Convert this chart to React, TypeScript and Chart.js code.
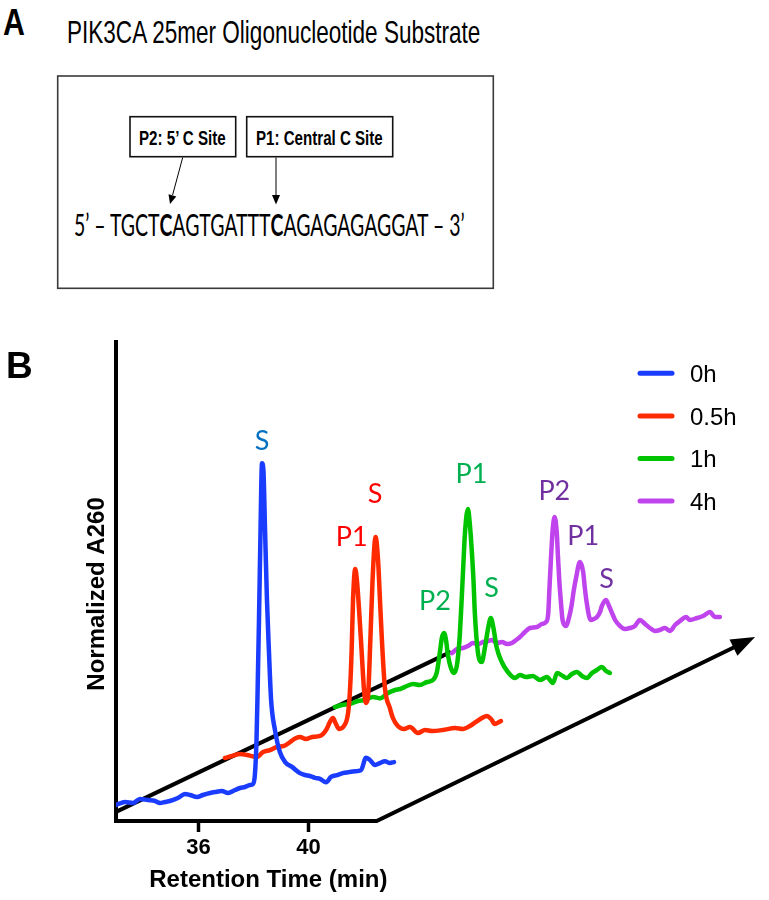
import React, { useEffect, useLayoutEffect, useRef } from 'react';
import { Chart, registerables } from 'chart.js';

Chart.register(...registerables);

// ---------------- data ----------------
const seriesLabels = ['0h', '0.5h', '1h', '4h'];
const lineColors = ['#1a3cff', '#ff2a00', '#00c400', '#c044ee'];
const peakTextColors = ['#0070c0', '#ff0000', '#00b050', '#7030a0'];

const time0h = [33.00, 33.33, 33.62, 33.87, 34.16, 34.42, 34.60, 34.78, 34.96, 35.25, 35.51, 35.69, 35.95, 36.16, 36.42, 36.60, 36.85, 37.07, 37.33, 37.51, 37.69, 37.87, 37.98, 38.05, 38.11, 38.15, 38.20, 38.25, 38.31, 38.36, 38.42, 38.49, 38.56, 38.64, 38.78, 38.96, 39.15, 39.40, 39.69, 39.87, 40.05, 40.24, 40.42, 40.64, 40.82, 41.04, 41.25, 41.47, 41.69, 41.91, 42.09, 42.24, 42.42, 42.60, 42.78, 42.96, 43.11];
const a260_0h = [3.34, 3.97, 3.76, 4.59, 4.38, 4.18, 3.76, 3.97, 4.18, 4.80, 5.64, 5.43, 5.01, 5.43, 5.85, 6.05, 6.26, 5.85, 6.47, 6.89, 7.10, 7.52, 7.72, 9.6, 16.9, 27.3, 42.0, 58.7, 74.7, 73.3, 60.8, 46.1, 35.7, 25.3, 19.0, 14.4, 12.3, 11.3, 10.0, 9.6, 9.4, 9.0, 8.8, 8.1, 9.2, 9.6, 10.0, 10.2, 10.4, 10.6, 13.2, 12.7, 11.7, 12.1, 12.5, 12.1, 12.3];

const time05h = [32.76, 33.02, 33.31, 33.56, 33.93, 34.15, 34.40, 34.65, 34.91, 35.13, 35.35, 35.49, 35.71, 35.93, 36.22, 36.44, 36.58, 36.69, 36.80, 36.91, 37.09, 37.24, 37.31, 37.37, 37.42, 37.50, 37.56, 37.64, 37.73, 37.82, 37.89, 37.96, 38.05, 38.13, 38.24, 38.33, 38.40, 38.47, 38.58, 38.76, 38.87, 39.05, 39.27, 39.49, 39.78, 40.04, 40.29, 40.69, 41.13, 41.42, 41.67, 41.89, 42.11, 42.29, 42.44, 42.58, 42.80];
const a260_05h = [1.65, 2.07, 2.49, 2.28, 1.86, 2.91, 3.32, 3.95, 4.16, 4.99, 5.83, 6.04, 5.62, 6.04, 6.25, 7.5, 9.17, 10.0, 8.75, 7.71, 8.33, 11.05, 15.85, 24.2, 34.64, 41.11, 38.81, 32.55, 24.2, 15.85, 13.13, 14.18, 26.29, 38.81, 47.79, 42.99, 34.64, 26.29, 16.27, 12.09, 10.0, 8.33, 7.71, 8.12, 6.87, 7.5, 7.29, 7.5, 7.92, 7.71, 8.33, 9.17, 10.0, 10.42, 9.79, 8.75, 9.38];

const time1h = [32.56, 32.82, 33.11, 33.40, 33.65, 33.95, 34.20, 34.49, 34.75, 34.93, 35.18, 35.40, 35.65, 35.91, 36.13, 36.27, 36.38, 36.45, 36.53, 36.60, 36.67, 36.78, 36.89, 37.00, 37.09, 37.17, 37.24, 37.29, 37.40, 37.47, 37.53, 37.60, 37.65, 37.76, 37.90, 38.02, 38.14, 38.23, 38.32, 38.44, 38.63, 38.85, 39.11, 39.29, 39.51, 39.76, 40.02, 40.27, 40.49, 40.64, 40.85, 41.00, 41.18, 41.36, 41.55, 41.73, 41.91, 42.09, 42.27, 42.42, 42.56];
const a260_1h = [0.80, 1.22, 1.43, 2.05, 2.26, 2.89, 2.60, 3.72, 4.35, 4.56, 5.18, 5.60, 5.39, 6.02, 6.44, 8.11, 12.28, 15.20, 16.25, 14.79, 11.66, 8.94, 7.90, 9.57, 14.79, 23.14, 31.49, 37.13, 42.14, 38.80, 34.20, 27.31, 20.42, 12.28, 10.19, 13.33, 17.50, 19.38, 17.50, 13.33, 10.19, 8.11, 6.85, 7.48, 7.06, 7.27, 6.44, 7.06, 5.81, 7.90, 7.27, 6.85, 7.69, 8.11, 7.27, 6.85, 7.90, 8.52, 9.15, 8.32, 7.90];

const time4h = [32.62, 32.80, 33.02, 33.20, 33.38, 33.56, 33.75, 33.93, 34.07, 34.25, 34.44, 34.62, 34.80, 34.95, 35.09, 35.27, 35.45, 35.71, 35.89, 36.04, 36.12, 36.16, 36.21, 36.28, 36.35, 36.43, 36.47, 36.52, 36.58, 36.64, 36.76, 36.87, 36.97, 37.05, 37.13, 37.27, 37.39, 37.45, 37.52, 37.66, 37.78, 37.89, 38.00, 38.07, 38.22, 38.33, 38.44, 38.55, 38.73, 38.91, 39.09, 39.27, 39.45, 39.64, 39.82, 40.00, 40.18, 40.36, 40.55, 40.73, 40.91, 41.13, 41.27, 41.53, 41.75, 42.00, 42.18, 42.36];
const a260_4h = [0.57, 1.41, 1.62, 2.03, 2.66, 2.45, 2.87, 3.08, 3.29, 2.66, 2.87, 2.45, 2.66, 3.29, 3.91, 4.96, 5.79, 6.00, 6.63, 7.04, 8.92, 13.73, 19.36, 26.25, 28.97, 25.63, 21.03, 15.81, 11.22, 7.46, 6.21, 7.88, 10.59, 13.73, 16.23, 19.57, 17.48, 14.14, 11.01, 7.46, 7.67, 8.09, 9.13, 10.39, 11.64, 10.39, 8.92, 7.46, 6.21, 5.58, 5.79, 6.21, 7.46, 6.63, 5.79, 5.17, 5.37, 5.79, 5.17, 6.42, 7.25, 8.09, 7.46, 7.88, 8.30, 9.13, 8.09, 8.09];

// peak annotations (label, retention time, A260 of label centre)
const peakNames0h = ['S'];
const peakTime0h = [38.31];
const peakA0h = [79.5];
const peakNames05h = ['P1', 'S'];
const peakTime05h = [37.37, 38.22];
const peakA05h = [47.85, 56.9];
const peakNames1h = ['P2', 'P1', 'S'];
const peakTime1h = [36.2, 37.53, 38.26];
const peakA1h = [23.1, 49.6, 25.8];
const peakNames4h = ['P2', 'P1', 'S'];
const peakTime4h = [36.34, 37.39, 38.24];
const peakA4h = [34.6, 25.2, 16.2];

const xTicks = [36, 40];
const X_MIN = 33;
const X_MAX = 56.42;
const Y_MIN = 0;
const Y_MAX = 100;
const AXIS_END = 42.48;       // end of drawn retention-time axis
const STEP_T = 4.2;           // waterfall offset per sample (min)
const STEP_A = 11.5;          // waterfall offset per sample (A260)
const DIAG_START = [33, 1.9];
const DIAG_END = [45.18, 35.3];
const ARROW_TIP = [56.24, 38.4];

const series = [
  { t: time0h, a: a260_0h, pn: peakNames0h, pt: peakTime0h, pa: peakA0h },
  { t: time05h, a: a260_05h, pn: peakNames05h, pt: peakTime05h, pa: peakA05h },
  { t: time1h, a: a260_1h, pn: peakNames1h, pt: peakTime1h, pa: peakA1h },
  { t: time4h, a: a260_4h, pn: peakNames4h, pt: peakTime4h, pa: peakA4h },
];

const SANS = '"Liberation Sans", Arial, Helvetica, sans-serif';
const HUMAN = 'Lato, "Open Sans", sans-serif';

// ---------------- plugin: waterfall decorations ----------------
const decorPlugin = {
  id: 'decor',
  beforeDatasetsDraw(chart: any) {
    const { ctx, scales } = chart;
    const x = scales.x, y = scales.y;
    ctx.save();
    ctx.strokeStyle = '#000';
    ctx.fillStyle = '#000';
    ctx.lineWidth = 4;
    ctx.lineCap = 'butt';
    // sample (time-course) axis
    ctx.beginPath();
    ctx.moveTo(x.getPixelForValue(DIAG_START[0]), y.getPixelForValue(DIAG_START[1]));
    ctx.lineTo(x.getPixelForValue(DIAG_END[0]), y.getPixelForValue(DIAG_END[1]));
    ctx.stroke();
    // retention axis + outer arrow
    const x0 = x.getPixelForValue(X_MIN) - 2;
    const xe = x.getPixelForValue(AXIS_END);
    const yb = y.getPixelForValue(Y_MIN);
    const tx = x.getPixelForValue(ARROW_TIP[0]);
    const ty = y.getPixelForValue(ARROW_TIP[1]);
    const dx = tx - xe, dy = ty - yb;
    const len = Math.hypot(dx, dy);
    const ux = dx / len, uy = dy / len;
    const headL = 24, headW = 9;
    ctx.lineJoin = 'miter';
    ctx.beginPath();
    ctx.moveTo(x0, yb);
    ctx.lineTo(xe, yb);
    ctx.lineTo(tx - ux * headL * 0.8, ty - uy * headL * 0.8);
    ctx.stroke();
    const bx = tx - ux * headL, by = ty - uy * headL;
    ctx.beginPath();
    ctx.moveTo(tx, ty);
    ctx.lineTo(bx - uy * headW, by + ux * headW);
    ctx.lineTo(bx + uy * headW, by - ux * headW);
    ctx.closePath();
    ctx.fill();
    ctx.restore();
  },
  afterDatasetsDraw(chart: any) {
    const { ctx, scales, chartArea } = chart;
    const x = scales.x, y = scales.y;
    ctx.save();
    // peak labels
    const fs = 27;
    ctx.font = `${fs}px ${HUMAN}`;
    ctx.textAlign = 'center';
    ctx.textBaseline = 'alphabetic';
    series.forEach((s, i) => {
      ctx.fillStyle = peakTextColors[i];
      s.pn.forEach((name, k) => {
        const px = x.getPixelForValue(s.pt[k] + i * STEP_T);
        const py = y.getPixelForValue(s.pa[k] + i * STEP_A);
        ctx.fillText(name, px, py + fs * 0.36);
      });
    });
    // legend
    const lx = chartArea.right - 122;
    const ly0 = chartArea.top + 31.3;
    const gap = 42.6;
    ctx.font = `24px ${SANS}`;
    ctx.textAlign = 'left';
    ctx.lineCap = 'round';
    ctx.lineWidth = 5;
    seriesLabels.forEach((lab, i) => {
      const yy = ly0 + i * gap;
      ctx.strokeStyle = lineColors[i];
      ctx.beginPath();
      ctx.moveTo(lx + 2, yy);
      ctx.lineTo(lx + 34, yy);
      ctx.stroke();
      ctx.fillStyle = '#000';
      ctx.fillText(lab, lx + 52, yy + 8.6);
    });
    // axis titles
    ctx.fillStyle = '#000';
    ctx.font = `bold 24px ${SANS}`;
    ctx.textAlign = 'center';
    ctx.fillText('Retention Time (min)', x.getPixelForValue(38.54), chartArea.bottom + 66.3);
    ctx.save();
    ctx.translate(chartArea.left - 12, y.getPixelForValue(47.4));
    ctx.rotate(-Math.PI / 2);
    ctx.fillText('Normalized A260', 0, 0);
    ctx.restore();
    ctx.restore();
  },
};

// ---------------- text helper (baseline-positioned HTML text) ----------------
type TxtProps = { x: number; y: number; w?: number; sx?: number; style?: React.CSSProperties; children: React.ReactNode };
function Txt({ x, y, w, sx, style, children }: TxtProps) {
  const ref = useRef<HTMLDivElement>(null);
  const mark = useRef<HTMLSpanElement>(null);
  useLayoutEffect(() => {
    const el = ref.current, m = mark.current;
    if (!el || !m) return;
    el.style.top = `${y - m.offsetTop}px`;
    let s = sx ?? 1;
    if (w) s = w / el.offsetWidth;
    el.style.transform = `scaleX(${s})`;
  }, [x, y, w, sx]);
  return (
    <div
      ref={ref}
      style={{ position: 'absolute', left: x, top: y, whiteSpace: 'nowrap', transformOrigin: '0 0', lineHeight: 1.2, color: '#000', ...style }}
    >
      {children}
      <span ref={mark} style={{ display: 'inline-block', width: 0, height: 0 }} />
    </div>
  );
}

export default function App() {
  const canvasRef = useRef<HTMLCanvasElement>(null);

  useEffect(() => {
    if (!canvasRef.current) return;
    const datasets = series.map((s, i) => ({
      label: seriesLabels[i],
      data: s.t.map((t, k) => ({ x: t + i * STEP_T, y: s.a[k] + i * STEP_A })),
      borderColor: lineColors[i],
      backgroundColor: lineColors[i],
      borderWidth: 4.5,
      pointRadius: 0,
      fill: false,
      cubicInterpolationMode: 'monotone' as const,
      borderJoinStyle: 'round' as const,
      borderCapStyle: 'round' as const,
    }));
    const chart = new Chart(canvasRef.current, {
      type: 'line',
      data: { datasets },
      options: {
        responsive: false,
        animation: false,
        devicePixelRatio: 1,
        events: [],
        layout: { padding: { top: 42, right: 9, left: 0, bottom: 0 } },
        plugins: { legend: { display: false }, tooltip: { enabled: false }, title: { display: false } },
        scales: {
          x: {
            type: 'linear',
            min: X_MIN,
            max: X_MAX,
            afterBuildTicks: (s: any) => { s.ticks = xTicks.map((v) => ({ value: v })); },
            afterFit: (s: any) => { s.height = 79; },
            grid: { display: true, drawOnChartArea: false, drawTicks: true, tickLength: 11, tickWidth: 3.5, tickColor: '#000', color: '#000' },
            border: { display: false },
            ticks: {
              color: '#000',
              padding: 3,
              autoSkip: false,
              maxRotation: 0,
              font: { family: SANS, size: 22, weight: 'bold' },
              callback: (v: any) => String(v),
            },
          },
          y: {
            type: 'linear',
            min: Y_MIN,
            max: Y_MAX,
            afterFit: (s: any) => { s.width = 116; },
            grid: { display: false },
            border: { display: true, width: 4, color: '#000' },
            ticks: { display: false },
          },
        },
      },
      plugins: [decorPlugin],
    } as any);
    return () => chart.destroy();
  }, []);

  return (
    <div style={{ position: 'absolute', left: 0, top: 0, width: 769, height: 900, background: '#fff', overflow: 'hidden' }}>
      <svg width={769} height={300} style={{ position: 'absolute', left: 0, top: 0 }}>
        <rect x={57.7} y={76} width={435.6} height={212.3} fill="none" stroke="#3a3a3a" strokeWidth={1.6} />
        <rect x={130} y={116.7} width={105.7} height={40} fill="none" stroke="#111" strokeWidth={1.6} />
        <rect x={246.7} y={116.7} width={146} height={40} fill="none" stroke="#111" strokeWidth={1.6} />
        <line x1={182.7} y1={157.5} x2={172.6} y2={195} stroke="#000" strokeWidth={1} />
        <polygon points="170,204 176.3,196.4 168.5,194.2" fill="#000" />
        <line x1={276} y1={157.5} x2={276} y2={196} stroke="#000" strokeWidth={1} />
        <polygon points="276,204.5 272,195 280,195" fill="#000" />
      </svg>
      <Txt x={3} y={35} sx={0.82} style={{ font: `bold 37px ${SANS}` }}>A</Txt>
      <Txt x={67} y={43.3} w={413} style={{ font: `30.5px ${SANS}` }}>PIK3CA 25mer Oligonucleotide Substrate</Txt>
      <Txt x={139} y={145} w={87} style={{ font: `bold 19.5px ${SANS}` }}>P2: 5’ C Site</Txt>
      <Txt x={255.5} y={145} w={127} style={{ font: `bold 19.5px ${SANS}` }}>P1: Central C Site</Txt>
      <Txt x={74} y={236} w={391} style={{ font: `31px ${HUMAN}` }}>
        5’ – TGCT<b style={{ fontWeight: 700 }}>C</b>AGTGATTT<b style={{ fontWeight: 700 }}>C</b>AGAGAGAGGAT – 3’
      </Txt>
      <canvas
        ref={canvasRef}
        width={769}
        height={600}
        style={{ position: 'absolute', left: 0, top: 300, width: 769, height: 600 }}
      />
      <Txt x={6} y={378.3} style={{ font: `bold 37px ${SANS}` }}>B</Txt>
    </div>
  );
}
